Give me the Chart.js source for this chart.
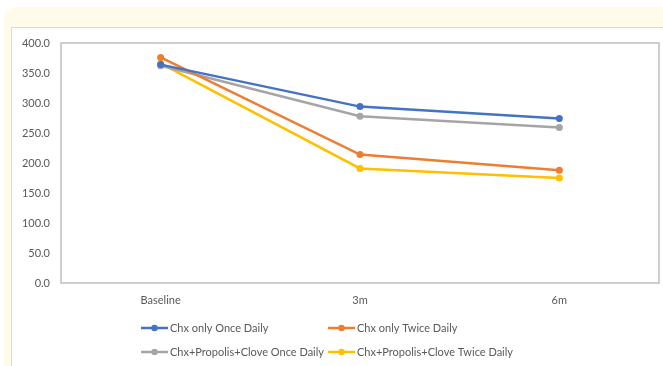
<!DOCTYPE html>
<html>
<head>
<meta charset="utf-8">
<style>
  html, body { margin: 0; padding: 0; background: #ffffff; }
  #wrap { width: 663px; height: 366px; }
</style>
<script src="https://cdn.jsdelivr.net/npm/chart.js@4/dist/chart.umd.min.js"></script>
</head>
<body>
<div id="wrap"><canvas id="c" width="663" height="366"></canvas></div>
<script>
// Time points
const categories = ['Baseline', '3m', '6m'];

// Series values
const chxOnce = [364, 294, 274];
const chxTwice = [376, 214, 188];
const propOnce = [362, 278, 259];
const propTwice = [366, 191, 175];

const seriesNames = [
  'Chx only Once Daily',
  'Chx only Twice Daily',
  'Chx+Propolis+Clove Once Daily',
  'Chx+Propolis+Clove Twice Daily'
];
const seriesColors = ['#4472C4', '#ED7D31', '#A5A5A5', '#FFC000'];
const seriesValues = [chxOnce, chxTwice, propOnce, propTwice];

const FONT = 'Lato, "Liberation Sans", sans-serif';
const TEXT = '#595959';

// Page frame: cream band and thin grey rules, plus the plot box
const framePlugin = {
  id: 'frame',
  beforeDraw(chart) {
    const ctx = chart.ctx;
    ctx.save();
    ctx.fillStyle = '#ffffff';
    ctx.fillRect(0, 0, chart.width, chart.height);
    // cream rounded band
    ctx.fillStyle = '#FFFBEA';
    ctx.beginPath();
    ctx.roundRect(4, 7, chart.width + 20, chart.height + 20, 12);
    ctx.fill();
    // inner white panel
    ctx.fillStyle = '#ffffff';
    ctx.fillRect(11, 27, chart.width, chart.height);
    ctx.strokeStyle = '#D9D9D9';
    ctx.lineWidth = 1;
    ctx.beginPath();
    ctx.moveTo(11.5, chart.height);
    ctx.lineTo(11.5, 27.5);
    ctx.lineTo(chart.width, 27.5);
    ctx.stroke();
    ctx.restore();
  },
  beforeDatasetsDraw(chart) {
    const a = chart.chartArea;
    const ctx = chart.ctx;
    ctx.save();
    ctx.strokeStyle = '#BFBFBF';
    ctx.lineWidth = 1.5;
    ctx.strokeRect(a.left, a.top, a.right - a.left, a.bottom - a.top);
    ctx.restore();
  }
};

// Two-column legend with line + marker samples
const legendPlugin = {
  id: 'gridLegend',
  afterDraw(chart) {
    const ctx = chart.ctx;
    const cols = [141, 328];
    const rows = [328, 352];
    ctx.save();
    ctx.font = '11px ' + FONT;
    ctx.textBaseline = 'middle';
    ctx.textAlign = 'left';
    chart.data.datasets.forEach((ds, i) => {
      const x = cols[i % 2];
      const y = rows[Math.floor(i / 2)];
      ctx.strokeStyle = ds.borderColor;
      ctx.lineWidth = 2.5;
      ctx.beginPath();
      ctx.moveTo(x, y);
      ctx.lineTo(x + 27, y);
      ctx.stroke();
      ctx.fillStyle = ds.borderColor;
      ctx.beginPath();
      ctx.arc(x + 13.5, y, 3.2, 0, Math.PI * 2);
      ctx.fill();
      ctx.fillStyle = TEXT;
      ctx.fillText(ds.label, x + 29, y);
    });
    ctx.restore();
  }
};

new Chart(document.getElementById('c'), {
  type: 'line',
  data: {
    labels: categories,
    datasets: seriesNames.map((name, i) => ({
      label: name,
      data: seriesValues[i],
      borderColor: seriesColors[i],
      backgroundColor: seriesColors[i],
      borderWidth: 2.5,
      pointRadius: 3.5,
      pointBorderWidth: 0,
      tension: 0
    }))
  },
  options: {
    responsive: false,
    animation: false,
    layout: { padding: { top: 43, right: 4, bottom: 53, left: 0 } },
    plugins: {
      legend: { display: false },
      tooltip: { enabled: false }
    },
    scales: {
      x: {
        offset: true,
        grid: { display: false, drawTicks: false },
        border: { display: false },
        ticks: { color: TEXT, font: { family: FONT, size: 11 }, padding: 11 },
        afterFit(s) { s.height = 30; }
      },
      y: {
        min: 0,
        max: 400,
        grid: { display: false, drawTicks: false },
        border: { display: false },
        ticks: {
          stepSize: 50,
          color: TEXT,
          font: { family: FONT, size: 11 },
          padding: 11,
          callback: v => v.toFixed(1)
        },
        afterFit(s) { s.width = 61; }
      }
    }
  },
  plugins: [framePlugin, legendPlugin]
});
</script>
</body>
</html>
